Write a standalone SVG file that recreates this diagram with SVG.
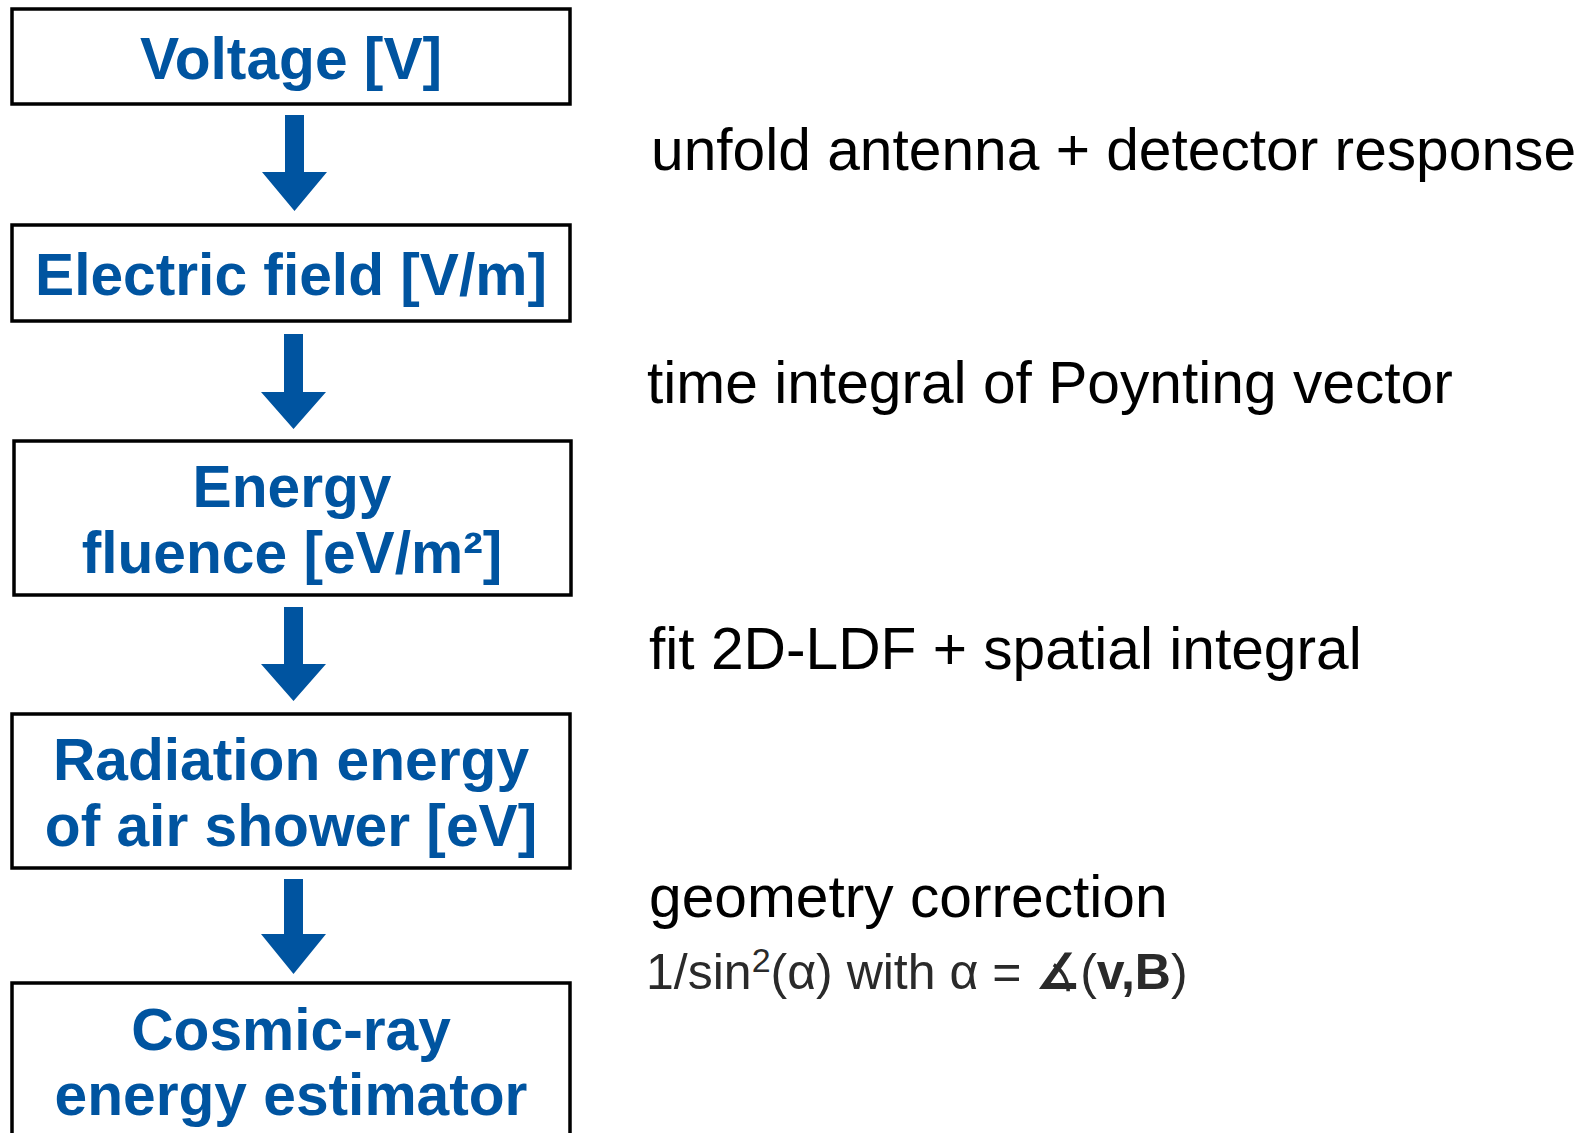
<svg xmlns="http://www.w3.org/2000/svg" width="1589" height="1133" viewBox="0 0 1589 1133">
<style>
.box{fill:#fff;stroke:#000;stroke-width:3.5}
.nt{font-family:"Liberation Sans",Arial,sans-serif;font-weight:bold;font-size:58.7px;fill:#0054a0;text-anchor:middle}
.lt{font-family:"Liberation Sans",Arial,sans-serif;font-size:58.7px;fill:#000}
.arr{fill:#0054a0}
</style>
<rect width="1589" height="1133" fill="#fff"/>
<g id="connectors">
<path class="arr" d="M285,115 H304 V172 H327 L294.5,211 L262,172 H285 Z"/>
<path class="arr" d="M284,334 H303 V392 H326 L293.5,429 L261,392 H284 Z"/>
<path class="arr" d="M284,607 H303 V664 H326 L293.5,701 L261,664 H284 Z"/>
<path class="arr" d="M284,879 H303 V934 H326 L293.5,974 L261,934 H284 Z"/>
</g>
<g id="n1"><rect class="box" x="12" y="9" width="558" height="95"/><text class="nt" x="291" y="79">Voltage [V]</text></g>
<g id="n2"><rect class="box" x="12" y="225" width="558" height="96"/><text class="nt" x="291" y="295">Electric field [V/m]</text></g>
<g id="n3"><rect class="box" x="14" y="441" width="557" height="154"/><text class="nt" x="292" y="507">Energy</text><text class="nt" x="292" y="573">fluence [eV/m²]</text></g>
<g id="n4"><rect class="box" x="12" y="714" width="558" height="154"/><text class="nt" x="291" y="780">Radiation energy</text><text class="nt" x="291" y="846">of air shower [eV]</text></g>
<g id="n5"><rect class="box" x="12" y="983" width="558" height="170"/><text class="nt" x="291" y="1050">Cosmic-ray</text><text class="nt" x="291" y="1115">energy estimator</text></g>
<g id="labels">
<text class="lt" x="651" y="170">unfold antenna + detector response</text>
<text class="lt" x="647" y="403">time integral of Poynting vector</text>
<text class="lt" x="649" y="669">fit 2D-LDF + spatial integral</text>
<text class="lt" x="649" y="917">geometry correction</text>
<text x="646" y="989" style="font-family:'Liberation Sans','DejaVu Sans',sans-serif;font-size:50px;fill:#2a2a2a">1/sin<tspan font-size="34" dy="-17">2</tspan><tspan dy="17">(α) with α = </tspan><tspan font-weight="bold" font-family="DejaVu Sans">∡</tspan>(<tspan font-weight="bold">v,B</tspan>)</text>
</g>
</svg>
